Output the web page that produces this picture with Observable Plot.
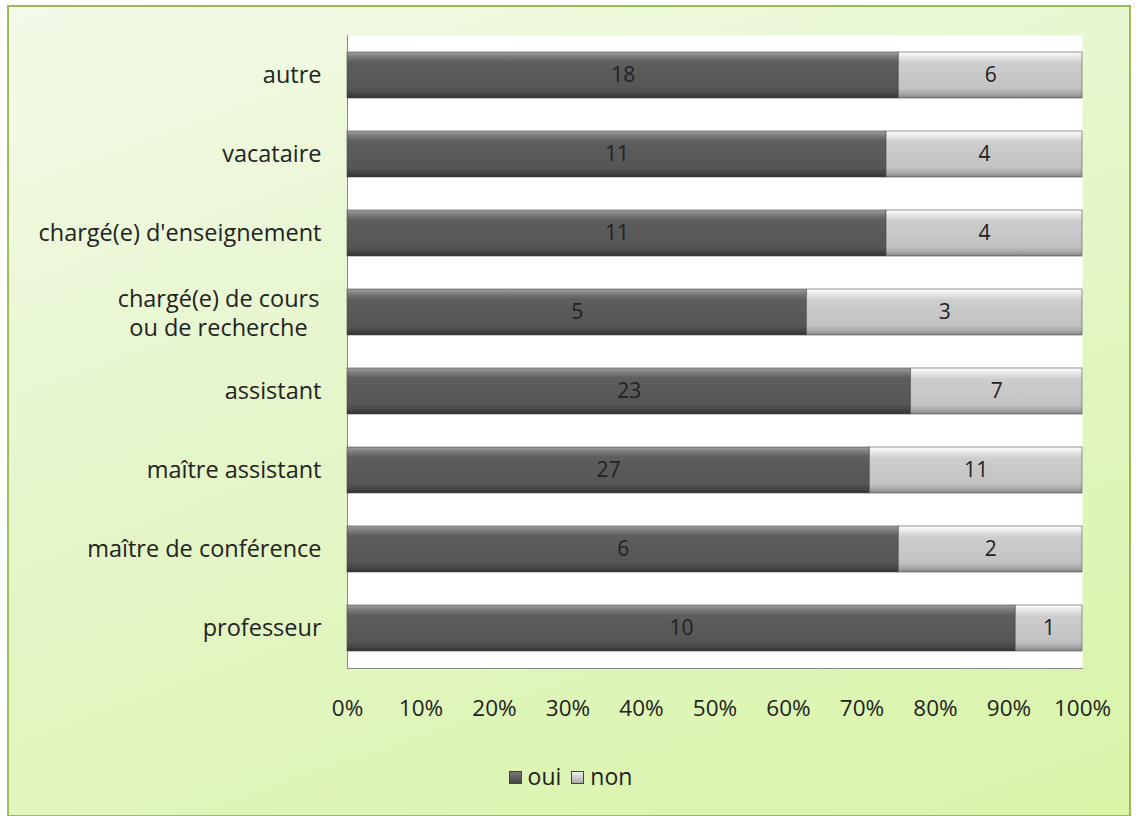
<!DOCTYPE html>
<html>
<head>
<meta charset="utf-8">
<script src="https://cdn.jsdelivr.net/npm/d3@7"></script>
<script src="https://cdn.jsdelivr.net/npm/@observablehq/plot@0.6"></script>
<style>
  html, body { margin: 0; padding: 0; background: #ffffff; }
  #frame {
    position: absolute; left: 7px; top: 5px; width: 1124px; height: 812px;
    border: 2px solid #9bbb59; box-sizing: border-box;
    background: linear-gradient(160deg, #f3fae8 0%, #e6f6cc 40%, #d8f5a8 100%);
  }
  #chart { position: absolute; left: 0; top: 0; }
  #legend {
    position: absolute; left: 0; top: 760px; width: 1141px; text-align: center;
    font-family: "Open Sans", sans-serif; font-size: 23px; color: #222;
  }
  #legend .sw { display: inline-block; width: 13px; height: 13px; margin: 0 6px 0 0; vertical-align: 1px; border: 1px solid #444; box-sizing: border-box; }
  #legend .item { margin: 0 5px; }
</style>
</head>
<body>
<div id="frame"></div>
<div id="chart"></div>
<div id="legend"></div>
<script>
const categories = ["autre", "vacataire", "chargé(e) d'enseignement", "chargé(e) de cours\nou de recherche", "assistant", "maître assistant", "maître de conférence", "professeur"];
const oui = [18, 11, 11, 5, 23, 27, 6, 10];
const non = [6, 4, 4, 3, 7, 11, 2, 1];
const seriesNames = ["oui", "non"];
const xTicks = [0, 0.1, 0.2, 0.3, 0.4, 0.5, 0.6, 0.7, 0.8, 0.9, 1];

const data = [];
categories.forEach((c, i) => {
  const total = oui[i] + non[i];
  data.push({cat: c, serie: "oui", value: oui[i], share: oui[i] / total});
  data.push({cat: c, serie: "non", value: non[i], share: non[i] / total});
});
const singleLine = categories.filter(c => !c.includes("\n"));
const multiLine = categories.filter(c => c.includes("\n"));

const chart = Plot.plot({
  width: 1141,
  height: 740,
  marginLeft: 347,
  marginRight: 59,
  marginTop: 35,
  marginBottom: 72,
  style: {fontFamily: "Open Sans, sans-serif", fontSize: "21px", color: "#222", background: "transparent", overflow: "visible"},
  x: {domain: [0, 1], label: null, axis: null},
  y: {domain: categories, paddingInner: 0.42, paddingOuter: 0.21, label: null, axis: null},
  color: {domain: seriesNames, range: ["url(#gOui)", "url(#gNon)"]},
  marks: [
    Plot.frame({fill: "white", stroke: null}),
    Plot.frame({anchor: "left", stroke: "#888"}),
    Plot.frame({anchor: "bottom", stroke: "#888"}),
    Plot.barX(data, Plot.stackX({
      x: "share", y: "cat", z: "serie", order: seriesNames,
      fill: "serie",
      stroke: "#4a4a4a", strokeWidth: 0.6
    })),
    Plot.text(data, Plot.stackX({
      x: "share", y: "cat", z: "serie", order: seriesNames,
      text: d => String(d.value),
      fill: "#222", fontSize: 21
    })),
    Plot.axisX({ticks: xTicks, tickFormat: d => Math.round(d * 100) + "%", tickSize: 0, tickPadding: 32, fontSize: 22.5, fill: "#222", label: null}),
    Plot.text(singleLine, {y: d => d, frameAnchor: "left", textAnchor: "end", dx: -26, text: d => d, fontSize: 23.5, fill: "#222"}),
    Plot.text(multiLine, {y: d => d, frameAnchor: "left", textAnchor: "middle", dx: -129, text: d => d, fontSize: 23.5, fill: "#222", lineHeight: 1.2})
  ]
});

// gradients for the bevelled bar look
const svg = d3.select(chart);
const defs = svg.insert("defs", ":first-child");
function grad(id, stops) {
  const g = defs.append("linearGradient").attr("id", id).attr("x1", 0).attr("y1", 0).attr("x2", 0).attr("y2", 1);
  stops.forEach(([o, c]) => g.append("stop").attr("offset", o).attr("stop-color", c));
}
grad("gOui", [[0, "#a0a0a0"], [0.1, "#7c7c7c"], [0.22, "#5e5e5e"], [0.8, "#555555"], [0.92, "#444444"], [1, "#303030"]]);
grad("gNon", [[0, "#ffffff"], [0.1, "#e8e8e8"], [0.25, "#cdcdcd"], [0.8, "#c2c2c2"], [0.92, "#a4a4a4"], [1, "#848484"]]);

document.getElementById("chart").appendChild(chart);

const legend = document.getElementById("legend");
const legendColors = {oui: "linear-gradient(#777, #444)", non: "linear-gradient(#eee, #aaa)"};
seriesNames.forEach(s => {
  const item = document.createElement("span");
  item.className = "item";
  const sw = document.createElement("span");
  sw.className = "sw";
  sw.style.background = legendColors[s];
  item.appendChild(sw);
  item.appendChild(document.createTextNode(s));
  legend.appendChild(item);
});
</script>
</body>
</html>
